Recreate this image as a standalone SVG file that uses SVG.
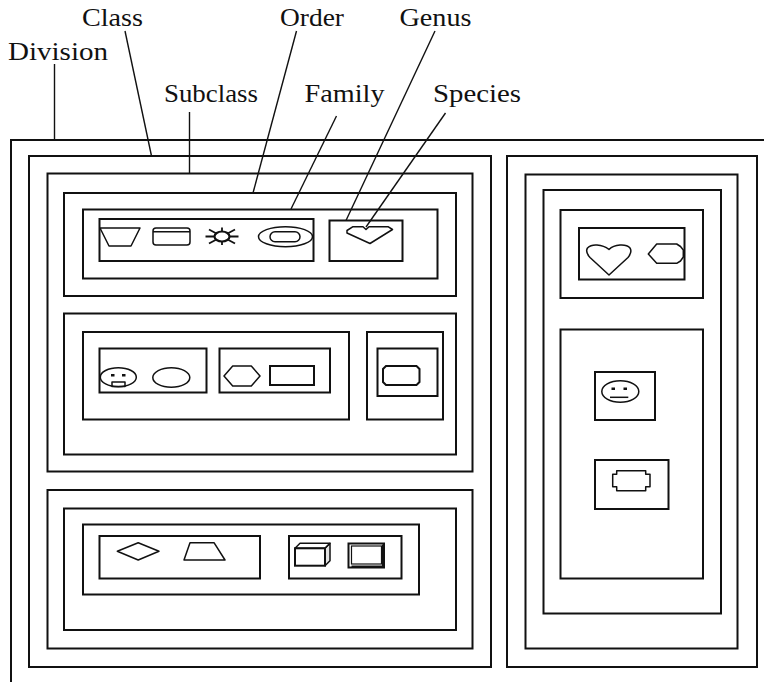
<svg xmlns="http://www.w3.org/2000/svg" width="764" height="682" viewBox="0 0 764 682">
<style>
.box{fill:none;stroke:#111;stroke-width:2}
.shp{fill:none;stroke:#111;stroke-width:1.5;stroke-linejoin:round}
.lead{stroke:#111;stroke-width:1.4;fill:none}
.lbl{font-family:"Liberation Serif","Times New Roman",serif;font-size:26px;fill:#111}
</style>
<rect width="764" height="682" fill="#fff"/>
<g id="labels">
<text class="lbl" x="82" y="26" textLength="61" lengthAdjust="spacingAndGlyphs">Class</text>
<text class="lbl" x="8" y="60" textLength="100" lengthAdjust="spacingAndGlyphs">Division</text>
<text class="lbl" x="164" y="101.5" textLength="94" lengthAdjust="spacingAndGlyphs">Subclass</text>
<text class="lbl" x="280" y="26" textLength="64" lengthAdjust="spacingAndGlyphs">Order</text>
<text class="lbl" x="399.5" y="26" textLength="72" lengthAdjust="spacingAndGlyphs">Genus</text>
<text class="lbl" x="304.5" y="101.5" textLength="80" lengthAdjust="spacingAndGlyphs">Family</text>
<text class="lbl" x="433" y="101.5" textLength="88" lengthAdjust="spacingAndGlyphs">Species</text>
</g>
<g id="connectors">
<line class="lead" x1="54.5" y1="64" x2="54.5" y2="140"/>
<line class="lead" x1="125" y1="31" x2="151.5" y2="156"/>
<line class="lead" x1="189.5" y1="112" x2="189.5" y2="173"/>
<line class="lead" x1="296.5" y1="31" x2="253" y2="193"/>
<line class="lead" x1="336.5" y1="116" x2="291" y2="209"/>
<line class="lead" x1="435" y1="31" x2="346" y2="220.5"/>
<line class="lead" x1="445.5" y1="113" x2="366" y2="227"/>
</g>
<g id="division">
<rect class="box" x="11" y="140" width="800" height="600"/>
</g>
<g id="class-left">
<rect class="box" x="29" y="156" width="462" height="511"/>
</g>
<g id="subclass-1">
<rect class="box" x="47.5" y="173.5" width="425" height="298"/>
</g>
<g id="order-1">
<rect class="box" x="64" y="193" width="392" height="103"/>
<rect class="box" x="83" y="209.5" width="354.5" height="69"/>
<rect class="box" x="99.5" y="219" width="214" height="42"/>
<rect class="box" x="329.5" y="220.5" width="73" height="40.5"/>
<polygon class="shp" points="100,228 140,228 131,246 109,246"/>
<rect class="shp" x="153" y="228" width="37" height="17" rx="3"/>
<line class="shp" x1="153" y1="231.7" x2="190" y2="231.7"/>
<g stroke="#111" stroke-width="1.8">
<line x1="205.5" y1="236.5" x2="238.5" y2="236.5"/>
<line x1="222" y1="227.5" x2="222" y2="245"/>
<line x1="209" y1="229.5" x2="235" y2="243.5"/>
<line x1="235" y1="229.5" x2="209" y2="243.5"/>
</g>
<ellipse cx="222" cy="236.5" rx="7.5" ry="5" fill="#fff" stroke="#111" stroke-width="2.2"/>
<ellipse class="shp" cx="285.5" cy="236.7" rx="27" ry="10"/>
<rect class="shp" x="270" y="231.7" width="30" height="10" rx="5"/>
<polygon class="shp" points="347,230.5 353,226.7 363,226.7 366,229.5 369,226.7 388,226.7 392.5,229.5 370,243.5 347,233"/>
</g>
<g id="order-2">
<rect class="box" x="64" y="313.5" width="392" height="141"/>
<rect class="box" x="83" y="332" width="266" height="87.5"/>
<rect class="box" x="367" y="332" width="76" height="87.5"/>
<rect class="box" x="99.5" y="348.5" width="107" height="44"/>
<rect class="box" x="219.5" y="348.5" width="110.5" height="44"/>
<rect class="box" x="377.5" y="348.5" width="60" height="47.5"/>
<ellipse class="shp" cx="118.3" cy="377.2" rx="18" ry="9.5"/>
<rect x="111" y="374" width="3.5" height="2.5" fill="#111"/>
<rect x="122" y="374" width="3.5" height="2.5" fill="#111"/>
<rect class="shp" x="112" y="382" width="13" height="4.5"/>
<ellipse class="shp" cx="171.3" cy="377.5" rx="18.5" ry="9.8"/>
<polygon class="shp" points="224,376 232.7,366 251.3,366 260,376 251.3,386 232.7,386"/>
<rect class="box" x="270" y="366" width="44" height="19"/>
<polygon class="box" points="386,366 416.5,366 419.5,369 419.5,382 416.5,385 386,385 383,382 383,369"/>
</g>
<g id="subclass-2">
<rect class="box" x="47.5" y="490" width="425" height="158.5"/>
</g>
<g id="order-3">
<rect class="box" x="64" y="508.5" width="392" height="121.5"/>
<rect class="box" x="83" y="524.5" width="336" height="70"/>
<rect class="box" x="99.5" y="536" width="160.5" height="42.5"/>
<rect class="box" x="289" y="536" width="112.5" height="42.5"/>
<polygon class="shp" points="117.3,551.3 138.2,542.7 159,551.3 138.2,560"/>
<polygon class="shp" points="190,542.7 214,542.7 225,560 184,560"/>
<polygon points="325,548.3 330,543.3 330,560.7 325,565.7" fill="#e4e4e4" stroke="#111" stroke-width="1.5" stroke-linejoin="round"/>
<polygon class="shp" points="295,548.3 300,543.3 330,543.3 325,548.3"/>
<rect class="box" x="295" y="548.3" width="30" height="17.4"/>
<rect x="348.5" y="543.5" width="35.5" height="24" fill="none" stroke="#111" stroke-width="2"/>
<polyline points="351.5,566.5 383,566.5 383,544.5" fill="none" stroke="#111" stroke-width="2"/>
<rect x="351.5" y="546" width="30" height="18" fill="none" stroke="#111" stroke-width="1.2"/>
</g>
<g id="class-right">
<rect class="box" x="507" y="156" width="250" height="511"/>
<rect class="box" x="525.5" y="174.5" width="212" height="474"/>
<rect class="box" x="543.5" y="190" width="177.5" height="423.5"/>
</g>
<g id="family-right-1">
<rect class="box" x="560.5" y="210" width="142.5" height="88"/>
<rect class="box" x="579" y="228" width="105.5" height="51.5"/>
<path class="shp" d="M609,275 L590,257.5 Q585,252 587.5,248 Q591,244.5 597,245 Q604,245.5 609,249.5 Q613,245.5 620,245 Q627,244.5 630,248 Q632.5,252 628,257.5 Z"/>
<polygon class="shp" points="648.3,254 656.7,244 676.7,244 680.5,246.5 683.3,250 683.3,257 680.5,261 676.7,263.3 656.7,263.3"/>
</g>
<g id="family-right-2">
<rect class="box" x="560.5" y="329.5" width="142.5" height="249"/>
<rect class="box" x="595" y="372" width="60" height="48"/>
<ellipse class="shp" cx="620.3" cy="391.5" rx="18.5" ry="10.8"/>
<rect x="611.5" y="387.5" width="3.5" height="2.5" fill="#111"/>
<rect x="623.5" y="387.5" width="3.5" height="2.5" fill="#111"/>
<line class="shp" x1="610" y1="397.3" x2="628.3" y2="397.3"/>
<rect class="box" x="595" y="460" width="73.5" height="49"/>
<polygon class="shp" points="616.7,470.7 645.7,470.7 645.7,474.3 650,474.3 650,486.7 645.7,486.7 645.7,490.7 616.7,490.7 616.7,486.7 612.7,486.7 612.7,474.3 616.7,474.3"/>
</g>
</svg>
